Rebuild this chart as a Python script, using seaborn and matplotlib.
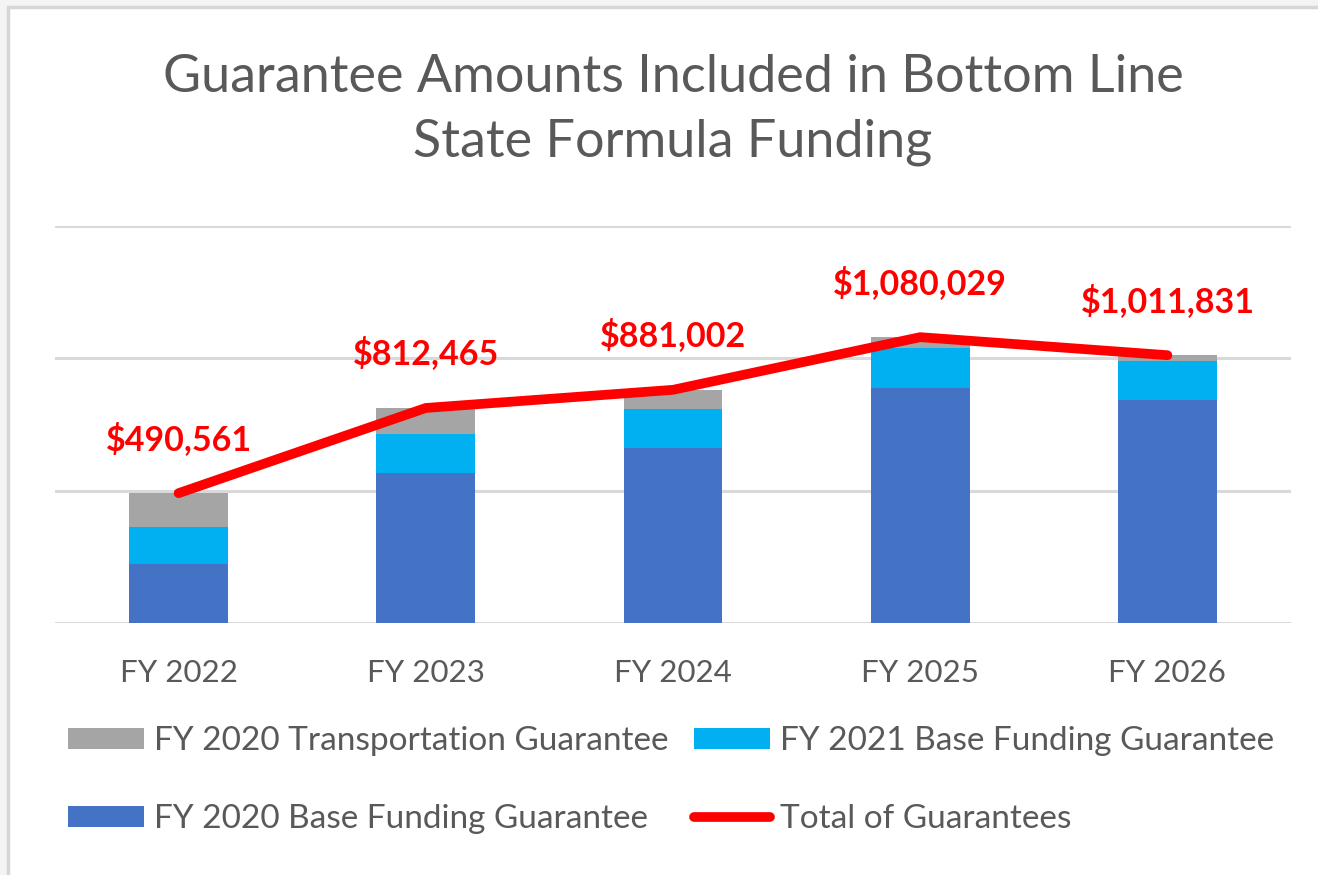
import matplotlib
matplotlib.use("Agg")
import matplotlib.pyplot as plt
import seaborn as sns
import pandas as pd
import numpy as np
from matplotlib.patches import Rectangle, Patch
from matplotlib.lines import Line2D

years = ["FY 2022", "FY 2023", "FY 2024", "FY 2025", "FY 2026"]
base_2020 = [223000, 567000, 661000, 888000, 842000]
base_2021 = [140000, 147000, 147000, 151000, 147000]
transport_2020 = [127561, 98465, 73002, 41029, 22831]
totals = [490561, 812465, 881002, 1080029, 1011831]
total_labels = ["$490,561", "$812,465", "$881,002", "$1,080,029", "$1,011,831"]

series_names = ["FY 2020 Base Funding Guarantee", "FY 2021 Base Funding Guarantee",
                "FY 2020 Transportation Guarantee"]
colors = {"FY 2020 Base Funding Guarantee": "#4472C4",
          "FY 2021 Base Funding Guarantee": "#00B0F0",
          "FY 2020 Transportation Guarantee": "#A5A5A5"}

sns.set_theme(style="white")
plt.rcParams['font.family'] = ['Lato', 'DejaVu Sans']

fig = plt.figure(figsize=(13.18, 8.75), dpi=100)
fig.patch.set_facecolor("#f4f4f4")
bg = Rectangle((8 / 1318, -0.1), 1.2, (875 - 7) / 875 + 0.1, transform=fig.transFigure,
               facecolor="white", edgecolor="#d6d6d6", linewidth=2.5, zorder=-5)
fig.patches.append(bg)

ax = fig.add_axes([55 / 1318, 1 - 623 / 875, (1291 - 55) / 1318, (623 - 226) / 875])
ax.set_facecolor("none")
ax.set_zorder(1)

df = pd.DataFrame({"year": years, "FY 2020 Base Funding Guarantee": base_2020,
                   "FY 2021 Base Funding Guarantee": base_2021,
                   "FY 2020 Transportation Guarantee": transport_2020})
# draw cumulative bars from the tallest (back) to the shortest (front)
cums = np.cumsum(np.array([df[n] for n in series_names], dtype=float), axis=0)
for k in range(len(series_names) - 1, -1, -1):
    sns.barplot(x=df["year"], y=cums[k], color=colors[series_names[k]], width=0.4, ax=ax,
                saturation=1, edgecolor="none", linewidth=0)

sns.lineplot(x=np.arange(len(years)), y=totals, color="#FF0000", linewidth=7,
             ax=ax, zorder=5, solid_capstyle="round", solid_joinstyle="round")

for i, (t, lab) in enumerate(zip(totals, total_labels)):
    ax.annotate(lab, (i, t), xytext=(0, 27), textcoords="offset points", ha="center",
                va="bottom", color="#FF0000", fontsize=24.5, fontweight="bold", zorder=6)

ax.set_xlim(-0.5, 4.5)
ax.set_ylim(0, 1500000)
ax.set_yticks([0, 500000, 1000000, 1500000])
ax.yaxis.grid(True, color="#d9d9d9", linewidth=2.2, zorder=0)
ax.set_axisbelow(True)
ax.set_yticklabels([])
ax.tick_params(axis="y", length=0)
ax.tick_params(axis="x", length=0, labelsize=22.5, labelcolor="#595959", pad=26)
for s in ax.spines.values():
    s.set_visible(False)
ax.set_xlabel("")
ax.set_ylabel("")

fig.text(673 / 1318, 1 - 78 / 875, "Guarantee Amounts Included in Bottom Line", ha="center", va="center",
         fontsize=37.5, color="#595959")
fig.text(673 / 1318, 1 - 142 / 875, "State Formula Funding", ha="center", va="center",
         fontsize=37.5, color="#595959")

handles = [Patch(facecolor="#A5A5A5", edgecolor="none"),
           Patch(facecolor="#4472C4", edgecolor="none"),
           Patch(facecolor="#00B0F0", edgecolor="none"),
           Line2D([0], [0], color="#FF0000", linewidth=7, solid_capstyle="round")]
labels = ["FY 2020 Transportation Guarantee", "FY 2020 Base Funding Guarantee",
          "FY 2021 Base Funding Guarantee", "Total of Guarantees"]
leg = fig.legend(handles, labels, ncol=2, loc="center", bbox_to_anchor=(671 / 1318, 1 - 780 / 875),
                 frameon=False, fontsize=24, labelcolor="#595959", handlelength=2.3, handleheight=0.6,
                 handletextpad=0.3, columnspacing=0.75, labelspacing=1.45)

fig.savefig("out.png", dpi=100, facecolor=fig.get_facecolor())
